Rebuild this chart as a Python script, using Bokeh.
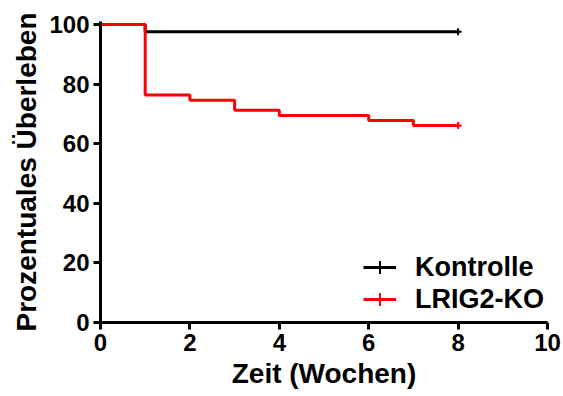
import math
from bokeh.plotting import figure
from bokeh.models import Range1d, Legend, LegendItem, FixedTicker
from bokeh.embed import file_html
from bokeh.resources import INLINE

# Data (Kaplan-Meier steps)
kontrolle_t = [0, 1, 8]
kontrolle_s = [100, 97.6, 97.6]
ko_t = [0, 1, 2, 3, 4, 6, 7, 8]
ko_s = [100, 76.3, 74.6, 71.2, 69.5, 67.8, 66.1, 66.1]
x_ticks = [0, 2, 4, 6, 8, 10]
y_ticks = [0, 20, 40, 60, 80, 100]

FONT = "Liberation Sans"

p = figure(width=563, height=396, output_backend="svg", toolbar_location=None,
           x_range=Range1d(0, 10), y_range=Range1d(0, 101),
           min_border_left=100, min_border_right=16, min_border_top=21, min_border_bottom=74)
p.outline_line_color = None
p.grid.visible = False
p.background_fill_color = "white"

for ax in (p.xaxis[0], p.yaxis[0]):
    ax.axis_line_width = 3
    ax.major_tick_line_width = 3
    ax.major_tick_out = 7
    ax.major_tick_in = 0
    ax.minor_tick_line_color = None
    ax.major_label_text_font = FONT
    ax.major_label_text_font_style = "bold"
    ax.major_label_text_font_size = "24px"
    ax.axis_label_text_font = FONT
    ax.axis_label_text_font_style = "bold"
    ax.axis_label_text_font_size = "28px"
    ax.axis_label_text_color = "black"
    ax.major_label_text_color = "black"

p.xaxis[0].ticker = FixedTicker(ticks=x_ticks)
p.yaxis[0].ticker = FixedTicker(ticks=y_ticks)
p.xaxis[0].axis_label = "Zeit (Wochen)"
p.yaxis[0].axis_label = "Prozentuales Überleben"
p.xaxis[0].major_label_standoff = 4
p.yaxis[0].major_label_standoff = 4
p.yaxis[0].axis_label_standoff = 4
p.xaxis[0].axis_label_standoff = 4

l1 = p.step(kontrolle_t, kontrolle_s, mode="after", line_color="black", line_width=3)
m1 = p.scatter([kontrolle_t[-1]], [kontrolle_s[-1]], marker="cross",
               size=7, line_color="black", line_width=2)
l2 = p.step(ko_t, ko_s, mode="after", line_color="red", line_width=3)
m2 = p.scatter([ko_t[-1]], [ko_s[-1]], marker="cross",
               size=7, line_color="red", line_width=2)

legend = Legend(items=[LegendItem(label="Kontrolle", renderers=[l1, m1]),
                       LegendItem(label="LRIG2-KO", renderers=[l2, m2])],
                location=(263, 7))
legend.border_line_color = None
legend.background_fill_alpha = 0
legend.label_text_font = FONT
legend.label_text_font_style = "bold"
legend.label_text_font_size = "27px"
legend.label_text_color = "black"
legend.glyph_width = 33
legend.glyph_height = 32
legend.label_standoff = 19
legend.spacing = 0
legend.margin = 0
legend.padding = 0
legend.label_height = 32
p.add_layout(legend)

open("out.html", "w").write(file_html(p, INLINE))
